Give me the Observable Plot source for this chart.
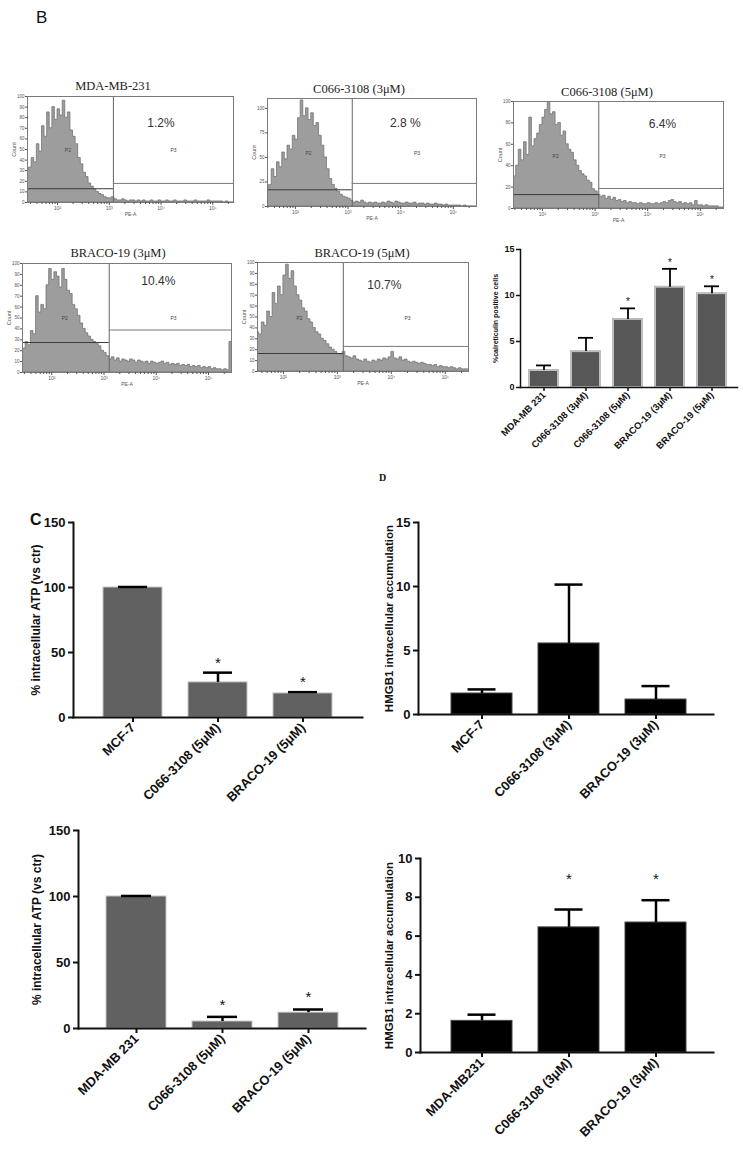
<!DOCTYPE html>
<html><head><meta charset="utf-8">
<script src="https://cdn.jsdelivr.net/npm/d3@7"></script>
<script src="https://cdn.jsdelivr.net/npm/@observablehq/plot@0.6"></script>
<style>
body{margin:0;background:#fff;}
#root{position:relative;width:743px;height:1158px;overflow:hidden;background:#fff;font-family:"Liberation Sans",Arial,sans-serif;}
.abs{position:absolute;line-height:1;white-space:nowrap;}
.htitle{font-family:"Liberation Serif","Times New Roman",serif;font-size:12.5px;color:#222;transform:translateX(-50%);}
.chart{position:absolute;}
.chart svg{overflow:visible;}
</style></head><body><div id="root"></div>
<script>
// ---------- DATA: flow cytometry histograms (log10 PE-A bins, counts) ----------
const histBins = [
1.40,1.45,1.50,1.55,1.60,1.65,1.70,1.75,1.80,1.85,
1.90,1.95,2.00,2.05,2.10,2.15,2.20,2.25,2.30,2.35,
2.40,2.45,2.50,2.55,2.60,2.65,2.70,2.75,2.80,2.85,
2.90,2.95,3.00,3.05,3.10,3.15,3.20,3.25,3.30,3.35,
3.40,3.45,3.50,3.55,3.60,3.65,3.70,3.75,3.80,3.85,
3.90,3.95,4.00,4.05,4.10,4.15,4.20,4.25,4.30,4.35,
4.40,4.45,4.50,4.55,4.60,4.65,4.70,4.75,4.80,4.85,
4.90,4.95,5.00,5.05,5.10,5.15,5.20,5.25,5.30,5.35,
5.40,5.45];
const countsMDA231 = [
30,33,42,38,55,48,72,62,85,70,
90,78,88,82,96,80,85,68,62,55,
42,36,28,24,18,15,12,10,8,7,
5,4,4,5,3,2,2,3,2,1,
2,2,1,2,1,2,1,1,2,1,
1,2,1,1,2,1,1,2,1,1,
1,2,1,1,1,2,1,1,1,1,
2,1,1,1,1,1,0,1,0,0,
0,0];
const countsC066_3 = [
15,18,22,38,30,45,40,55,48,62,
58,72,68,90,108,92,100,88,95,82,
85,72,62,50,38,28,22,18,15,12,
10,9,8,6,4,5,4,6,4,3,
4,3,4,3,3,4,3,5,4,3,
5,4,3,3,4,3,3,4,2,3,
3,2,3,2,2,3,2,2,1,2,
1,1,1,1,1,0,1,0,0,0,
0,0];
const countsC066_5 = [
28,30,40,55,45,62,50,85,58,65,
70,78,85,92,100,88,90,78,80,68,
72,60,55,52,45,40,35,32,30,26,
24,18,16,13,11,12,9,11,8,10,
7,8,6,7,5,6,5,5,4,5,
4,4,5,4,4,5,4,5,6,5,
7,8,6,5,6,4,5,4,5,3,
7,3,3,2,3,2,2,2,2,1,
1,1];
const countsBRACO_3 = [
20,22,28,25,38,35,70,55,62,58,
80,95,85,92,88,78,95,85,75,72,
62,58,52,45,40,36,33,30,28,26,
24,20,18,15,12,14,11,13,10,12,
11,10,12,11,9,11,10,9,10,8,
10,9,8,9,10,8,9,7,8,7,
8,6,7,6,7,5,6,5,6,4,
5,4,5,3,4,3,3,2,3,2,
28,28];
const countsBRACO_5 = [
35,35,36,34,45,42,55,50,72,62,
78,70,88,98,85,92,78,70,65,58,
55,48,45,40,36,34,30,28,25,22,
20,18,16,15,18,14,13,12,14,11,
10,9,11,9,8,10,9,11,10,12,
11,13,18,12,11,13,10,11,9,8,
9,8,7,8,7,6,6,5,6,4,
5,4,4,3,4,3,2,3,2,2,
2,1];
const histTitles = ["MDA-MB-231","C066-3108 (3μM)","C066-3108 (5μM)","BRACO-19 (3μM)","BRACO-19 (5μM)"];
const histPercents = ["1.2%","2.8 %","6.4%","10.4%","10.7%"];
const gateP2Level = [13, 17, 13, 27.5, 16.5];
const gateP3Level = [18, 23.5, 18.7, 39, 23];
const gateSplit = [3.08, 3.08, 3.07, 3.10, 3.11];

// ---------- DATA: calreticulin ----------
const calCats = ["MDA-MB 231","C066-3108 (3μM)","C066-3108 (5μM)","BRACO-19 (3μM)","BRACO-19 (5μM)"];
const calMean = [1.85, 3.9, 7.4, 10.9, 10.2];
const calSem  = [0.55, 1.5, 1.2, 2.0, 0.8];
const calStar = [false, false, true, true, true];
const calTicks = [0, 5, 10, 15];

// ---------- DATA: ATP ----------
const atpMcfCats = ["MCF-7","C066-3108 (5μM)","BRACO-19 (5μM)"];
const atpMcfMean = [100, 27, 18.5];
const atpMcfSem  = [0.4, 7.5, 1.0];
const atpMcfStar = [false, true, true];
const atpMdaCats = ["MDA-MB 231","C066-3108 (5μM)","BRACO-19 (5μM)"];
const atpMdaMean = [100, 5.3, 12];
const atpMdaSem  = [0.4, 3.5, 2.4];
const atpMdaStar = [false, true, true];
const atpTicks = [0, 50, 100, 150];

// ---------- DATA: HMGB1 ----------
const hmgMcfCats = ["MCF-7","C066-3108 (3μM)","BRACO-19 (3μM)"];
const hmgMcfMean = [1.64, 5.55, 1.17];
const hmgMcfSem  = [0.32, 4.6, 1.05];
const hmgMcfStar = [false, false, false];
const hmgMcfTicks = [0, 5, 10, 15];
const hmgMdaCats = ["MDA-MB231","C066-3108 (3μM)","BRACO-19 (3μM)"];
const hmgMdaMean = [1.63, 6.45, 6.7];
const hmgMdaSem  = [0.32, 0.92, 1.15];
const hmgMdaStar = [false, true, true];
const hmgMdaTicks = [0, 2, 4, 6, 8, 10];

// ---------- LAYOUT ----------
const root = document.getElementById("root");
function place(el, left, top, cls){
  const d = document.createElement("div");
  d.className = cls || "chart";
  d.style.left = left + "px"; d.style.top = top + "px";
  d.appendChild(el); root.appendChild(d); return d;
}
function label(text, left, top, css){
  const d = document.createElement("div");
  d.className = "abs"; d.textContent = text;
  d.style.left = left + "px"; d.style.top = top + "px";
  Object.assign(d.style, css || {});
  root.appendChild(d); return d;
}

const sup = {2:"²",3:"³",4:"⁴",5:"⁵"};
const histPanels = [
  {counts: countsMDA231, fl:27, fr:233, ft:96, fb:202, lmin:1.42, lmax:5.40, ymax:100, yticks:d3.range(0,101,10), pctX:4.0, pctY:75, p2X:2.2, p3X:4.24, pY:49, tx:113, ty:86},
  {counts: countsC066_3, fl:267, fr:476, ft:98, fb:206, lmin:1.47, lmax:5.44, ymax:110, yticks:[0,25,50,75,100], pctX:4.09, pctY:84.5, p2X:2.25, p3X:4.31, pY:54, tx:359, ty:89},
  {counts: countsC066_5, fl:513, fr:723, ft:101, fb:208, lmin:1.45, lmax:5.44, ymax:100, yticks:d3.range(0,101,20), pctX:4.28, pctY:79, p2X:2.25, p3X:4.28, pY:48.6, tx:607, ty:92},
  {counts: countsBRACO_3, fl:22, fr:231, ft:263, fb:372, lmin:1.44, lmax:5.44, ymax:100, yticks:d3.range(0,101,10), pctX:4.04, pctY:83.5, p2X:2.25, p3X:4.33, pY:49.5, tx:118, ty:253},
  {counts: countsBRACO_5, fl:257, fr:468, ft:262, fb:371, lmin:1.52, lmax:5.43, ymax:100, yticks:d3.range(0,101,10), pctX:3.87, pctY:79, p2X:2.3, p3X:4.3, pY:48.6, tx:362, ty:253}
];

function histogram(cfg, i){
  const data = histBins.map((L, j) => ({L, c: cfg.counts[j]}));
  const ml = 18, mr = 3, mt = 3, mb = 18;
  const minor = [];
  for (let n = 1; n <= 5; n++) for (let k = 2; k <= 9; k++) { const v = n + Math.log10(k); if (v > cfg.lmin && v < cfg.lmax) minor.push(v); }
  const gate = gateSplit[i];
  const notes = [
    {x: cfg.pctX, y: cfg.pctY, t: histPercents[i], s: 12, f: "#333"},
    {x: cfg.p2X, y: cfg.pY, t: "P2", s: 5, f: "#444"},
    {x: cfg.p3X, y: cfg.pY, t: "P3", s: 5, f: "#444"}
  ];
  const svg = Plot.plot({
    width: cfg.fr - cfg.fl + ml + mr, height: cfg.fb - cfg.ft + mt + mb,
    marginLeft: ml, marginRight: mr, marginTop: mt, marginBottom: mb,
    style: {fontFamily: "Liberation Sans, Arial, sans-serif", fontSize: "5px", color: "#555", background: "transparent"},
    x: {domain: [cfg.lmin, cfg.lmax]},
    y: {domain: [0, cfg.ymax]},
    marks: [
      Plot.areaY(data, {x: "L", y: "c", curve: "step-after", fill: "#9d9d9d", stroke: "#6a6a6a", strokeWidth: 0.7, clip: true}),
      Plot.ruleX([gate], {stroke: "#666", strokeWidth: 1}),
      Plot.ruleY([gateP2Level[i]], {x1: cfg.lmin, x2: gate, stroke: "#3a3a3a", strokeWidth: 1}),
      Plot.ruleY([gateP3Level[i]], {x1: gate, x2: cfg.lmax, stroke: "#7a7a7a", strokeWidth: 1}),
      Plot.frame({stroke: "#7a7a7a"}),
      Plot.text(notes, {x: "x", y: "y", text: "t", fontSize: d => d.s, fill: "f"}),
      Plot.axisX({ticks: [2,3,4,5], tickFormat: d => "10" + sup[d], tickSize: 3, tickPadding: 1, fontSize: 5, label: null}),
      Plot.axisX({ticks: minor, tickFormat: () => "", tickSize: 2, label: null}),
      Plot.axisY({ticks: cfg.yticks, tickSize: 2, tickPadding: 1, fontSize: 4.5, label: null}),
      Plot.text(["Count"], {frameAnchor: "left", textAnchor: "middle", dx: -13, rotate: -90, fontSize: 5.5, fill: "#555"}),
      Plot.text(["PE-A"], {frameAnchor: "bottom", dy: 13, fontSize: 5, fill: "#555"})
    ]
  });
  place(svg, cfg.fl - ml, cfg.ft - mt);
  label(histTitles[i], cfg.tx, cfg.ty - 6.5, {}).className = "abs htitle";
}
histPanels.forEach(histogram);

function barChart(cfg){
  const data = cfg.cats.map((c, i) => ({c, m: cfg.mean[i], top: cfg.mean[i] + cfg.sem[i], star: cfg.star[i]}));
  const marks = [
    Plot.barY(data, {x: "c", y: "m", fill: cfg.fill, stroke: cfg.edge, strokeWidth: cfg.edgeW}),
    Plot.ruleX(data, {x: "c", y1: "m", y2: "top", stroke: "#000", strokeWidth: cfg.ew}),
    Plot.tickY(data, {x: "c", y: "top", stroke: "#000", strokeWidth: cfg.ew, insetLeft: cfg.capInset, insetRight: cfg.capInset}),
    Plot.text(data.filter(d => d.star), {x: "c", y: cfg.starLevel != null ? () => cfg.starLevel : "top", dy: cfg.starDy, text: () => "*", fontSize: cfg.starSize, fontWeight: "normal", fill: "#111"}),
    Plot.frame({anchor: "left", strokeWidth: cfg.axisW}),
    Plot.frame({anchor: "bottom", strokeWidth: cfg.axisW}),
    Plot.axisY({ticks: cfg.yticks, tickSize: cfg.ts, tickPadding: cfg.tp, fontSize: cfg.yfs, strokeWidth: cfg.axisW, label: null}),
    Plot.axisX({tickRotate: -45, tickSize: cfg.ts, tickPadding: cfg.xtp, fontSize: cfg.xfs, strokeWidth: cfg.axisW, label: null}),
    Plot.text([cfg.ylabel], {frameAnchor: "left", textAnchor: "middle", dx: cfg.labelDx, rotate: -90, fontSize: cfg.labelSize})
  ];
  const svg = Plot.plot({
    width: cfg.width, height: cfg.height,
    marginLeft: cfg.ml, marginRight: cfg.mr, marginTop: cfg.mt, marginBottom: cfg.mb,
    style: {fontFamily: "Liberation Sans, Arial, sans-serif", fontWeight: "bold", color: "#111", background: "transparent"},
    x: {domain: cfg.cats, paddingInner: cfg.pi, paddingOuter: cfg.po, insetLeft: cfg.il, insetRight: cfg.ir},
    y: {domain: [0, cfg.ymax]},
    marks
  });
  place(svg, cfg.left, cfg.top);
}

// calreticulin
barChart({cats: calCats, mean: calMean, sem: calSem, star: calStar, yticks: calTicks, ymax: 15,
  left: 480, top: 235, width: 263, height: 220, ml: 40, mr: 6, mt: 14, mb: 68,
  pi: 0.3, po: 0.15, il: 0.6, ir: 2.9,
  fill: "#575757", edge: "#bdbdbd", edgeW: 2, ew: 1.8, capInset: 7, axisW: 1.5,
  ts: 4, tp: 2, xtp: 2, yfs: 9, xfs: 9.5, starSize: 10, starDy: -6.5,
  ylabel: "%calreticulin positive cells", labelDx: -24.5, labelSize: 7});

// ATP MCF-7
barChart({cats: atpMcfCats, mean: atpMcfMean, sem: atpMcfSem, star: atpMcfStar, yticks: atpTicks, ymax: 150,
  left: 0, top: 505, width: 370, height: 320, ml: 73, mr: 8, mt: 17, mb: 108,
  pi: 0.3, po: 0.3, il: 3.35, ir: 3.5,
  fill: "#616161", edge: "#c4c4c4", edgeW: 1, ew: 2.5, capInset: 15, axisW: 2,
  ts: 5, tp: 3, xtp: 3, yfs: 13, xfs: 13, starSize: 15, starDy: -9.5,
  ylabel: "% intracellular ATP (vs ctr)", labelDx: -37, labelSize: 12});

// ATP MDA-MB 231
barChart({cats: atpMdaCats, mean: atpMdaMean, sem: atpMdaSem, star: atpMdaStar, yticks: atpTicks, ymax: 150,
  left: 0, top: 813, width: 370, height: 345, ml: 78, mr: 5, mt: 17, mb: 130,
  pi: 0.3, po: 0.3, il: 2, ir: 0,
  fill: "#616161", edge: "#c4c4c4", edgeW: 1, ew: 2.5, capInset: 15, axisW: 2,
  ts: 5, tp: 3, xtp: 3, yfs: 13, xfs: 13, starSize: 15, starDy: -12,
  ylabel: "% intracellular ATP (vs ctr)", labelDx: -41, labelSize: 12});

// HMGB1 MCF-7
barChart({cats: hmgMcfCats, mean: hmgMcfMean, sem: hmgMcfSem, star: hmgMcfStar, yticks: hmgMcfTicks, ymax: 15,
  left: 370, top: 500, width: 373, height: 325, ml: 48, mr: 30, mt: 22, mb: 111,
  pi: 0.3, po: 0.3, il: 6.9, ir: 1,
  fill: "#000", edge: "#444", edgeW: 1, ew: 2.5, capInset: 16.5, axisW: 2,
  ts: 5, tp: 3, xtp: 3, yfs: 13, xfs: 13, starSize: 15, starDy: -10,
  ylabel: "HMGB1 intracellular accumulation", labelDx: -29, labelSize: 11.5});

// HMGB1 MDA-MB231
barChart({cats: hmgMdaCats, mean: hmgMdaMean, sem: hmgMdaSem, star: hmgMdaStar, yticks: hmgMdaTicks, ymax: 10,
  left: 370, top: 840, width: 373, height: 318, ml: 50, mr: 30, mt: 18, mb: 106,
  pi: 0.3, po: 0.3, il: 4.9, ir: 1,
  fill: "#000", edge: "#444", edgeW: 1, ew: 2.5, capInset: 16.5, axisW: 2,
  ts: 5, tp: 3, xtp: 3, yfs: 13, xfs: 13, starSize: 15, starLevel: 9.1, starDy: 3.5,
  ylabel: "HMGB1 intracellular accumulation", labelDx: -31, labelSize: 11.5});

// panel letters
label("B", 36, 9, {fontSize: "17px", color: "#111"});
label("C", 30, 512, {fontSize: "16px", fontWeight: "bold", color: "#111"});
label("D", 379, 473, {fontSize: "10px", fontWeight: "bold", color: "#111", fontFamily: "Liberation Serif, serif"});
</script></body></html>
